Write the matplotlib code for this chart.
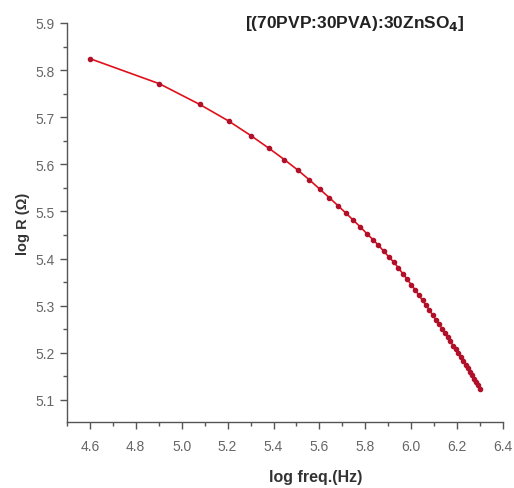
import matplotlib
matplotlib.use('Agg')
import matplotlib.pyplot as plt
from matplotlib.ticker import MultipleLocator

plt.rcParams['font.family'] = ['Liberation Sans', 'DejaVu Sans']

log_freq = [4.602, 4.903, 5.079, 5.204, 5.301, 5.380, 5.447, 5.505, 5.556, 5.602,
            5.643, 5.681, 5.716, 5.748, 5.778, 5.806, 5.833, 5.857, 5.881, 5.903,
            5.924, 5.944, 5.964, 5.982, 6.000, 6.017, 6.033, 6.049, 6.064, 6.079,
            6.093, 6.107, 6.121, 6.134, 6.146, 6.158, 6.170, 6.182, 6.193, 6.204,
            6.215, 6.225, 6.236, 6.246, 6.255, 6.265, 6.274, 6.283, 6.292, 6.301]
log_R = [5.824, 5.771, 5.727, 5.692, 5.661, 5.634, 5.610, 5.588, 5.567, 5.547,
         5.529, 5.512, 5.496, 5.481, 5.467, 5.453, 5.440, 5.428, 5.415, 5.403,
         5.392, 5.380, 5.367, 5.356, 5.344, 5.333, 5.322, 5.311, 5.301, 5.290,
         5.280, 5.270, 5.260, 5.251, 5.242, 5.233, 5.224, 5.215, 5.207, 5.199,
         5.191, 5.183, 5.175, 5.167, 5.160, 5.152, 5.145, 5.138, 5.131, 5.124]

fig = plt.figure(figsize=(5.14, 4.89), dpi=100)
ax = fig.add_axes([0.130, 0.135, 0.849, 0.816])

ax.plot(log_freq, log_R, color='#e0101a', lw=1.2, marker='o', ms=3.0,
        mfc='#b0102a', mec='#b0102a')

ax.set_xlim(4.5, 6.4)
ax.set_ylim(5.053, 5.9)
ax.xaxis.set_major_locator(MultipleLocator(0.2))
ax.xaxis.set_minor_locator(MultipleLocator(0.1))
ax.yaxis.set_major_locator(MultipleLocator(0.1))
ax.yaxis.set_minor_locator(MultipleLocator(0.05))

for s in ['top', 'right']:
    ax.spines[s].set_visible(False)
for s in ['left', 'bottom']:
    ax.spines[s].set_color('#555555')
    ax.spines[s].set_linewidth(1.0)

ax.tick_params(which='major', direction='out', length=5, width=1, color='#555555',
               labelsize=10, labelcolor='#666666')
ax.tick_params(axis='x', which='major', pad=7)
ax.tick_params(which='minor', direction='out', length=3, width=1, color='#555555')

ax.set_xlabel('log freq.(Hz)', fontsize=11.5, fontweight='bold', color='#333333',
              labelpad=12, x=0.571)
ax.set_ylabel('log R (Ω)', fontsize=10.5, fontweight='bold', color='#333333', labelpad=4)

ax.text(0.913, 1.025, r'[(70PVP:30PVA):30ZnSO$_\mathbf{4}$]', transform=ax.transAxes,
        ha='right', va='top', fontsize=12.5, fontweight='bold', color='#222222')

plt.savefig('out.png', dpi=100)
